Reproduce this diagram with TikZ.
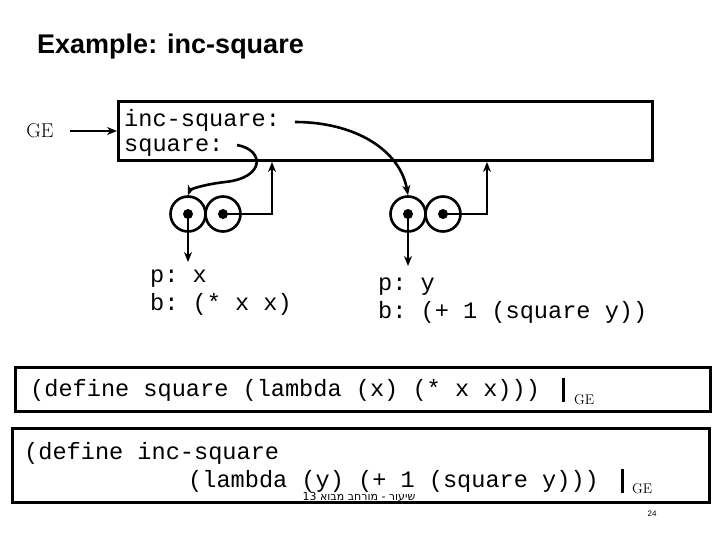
\documentclass[tikz,border=0pt]{standalone}
\usepackage{fontspec}
\setmonofont{Liberation Mono}
\setsansfont{Liberation Sans}
\newfontfamily\hebfont{DejaVu Sans}
\usetikzlibrary{arrows.meta}
\begin{document}
\begin{tikzpicture}[x=1pt,y=-1pt,
  arr/.style={line width=2.6pt,-{Stealth[length=10pt,width=8pt]}},
  box/.style={draw,line width=3pt},
  cell/.style={circle,draw,line width=2.6pt,minimum size=35pt,inner sep=0pt},
  dot/.style={circle,fill,minimum size=10pt,inner sep=0pt},
  code/.style={font=\ttfamily\fontsize{23.6}{28}\selectfont,inner sep=0pt,anchor=base west},
  ge/.style={font=\rmfamily\fontsize{14}{16}\selectfont,inner sep=0pt,anchor=base west}]
\useasboundingbox (0,0) rectangle (720,540);
\node[font=\sffamily\bfseries\fontsize{27}{30}\selectfont,anchor=base west,inner sep=0pt] (title) at (37,54) {Example: inc-square};
\node[font=\rmfamily\fontsize{20}{22}\selectfont,inner sep=0pt] (ge) at (40,131) {GE};
\draw[box] (118,102) rectangle (652,161);
\coordinate (boxl) at (117,131);
\coordinate (ges) at (70,131);
\draw[arr] (ges) -- (boxl);
\node[code] (inc) at (124,127) {inc-square:};
\node[code] (sq) at (124,152) {square:};
% pairs
\node[cell] (c1) at (188,214) {}; \node[dot] (d1) at (188,214) {};
\node[cell] (c2) at (223,214) {}; \node[dot] (d2) at (223,214) {};
\node[cell] (c3) at (408,214) {}; \node[dot] (d3) at (408,214) {};
\node[cell] (c4) at (443,214) {}; \node[dot] (d4) at (443,214) {};
\coordinate (t1) at (272,162); \coordinate (t2) at (487,162);
\draw[arr] (d2.center) -- (272,214) -- (t1);
\draw[arr] (d4.center) -- (487,214) -- (t2);
\node[code,anchor=base west] (p1) at (150,282) {p: x};
\node[code,anchor=base west] (b1) at (150,310) {b: (* x x)};
\node[code,anchor=base west] (p2) at (378,290) {p: y};
\node[code,anchor=base west] (b2) at (378,318) {b: (+ 1 (square y))};
\coordinate (a1) at (188,262); \coordinate (a2) at (408,266);
\draw[arr] (d1.center) -- (a1);
\draw[arr] (d3.center) -- (a2);
\draw[arr] (237,145) .. controls (265,150) and (265,178) .. (225,182) .. controls (200,185) and (190,190) .. (c1.north);
\draw[arr] (295,122) .. controls (355,122) and (400,150) .. (c3.north);
% code boxes
\draw[box] (15,367) rectangle (710,411);
\node[code] (l1) at (30,396) {(define square (lambda (x) (* x x)))};
\draw[line width=3pt] (563,378) -- (563,402);
\node[ge] (g1) at (574,404) {GE};
\draw[box] (12,428) rectangle (709,502);
\node[code] (l2) at (24,459) {(define inc-square};
\node[code] (l3) at (188,487) {(lambda (y) (+ 1 (square y)))};
\draw[line width=3pt] (622,469) -- (622,493);
\node[ge] (g2) at (632,493) {GE};
\node[font=\hebfont\fontsize{11}{13}\selectfont,inner sep=0pt] (foot) at (359,497) {13 {מבוא מורחב - שיעור}};
\node[font=\sffamily\fontsize{8}{10}\selectfont,inner sep=0pt] (pg) at (652,514) {24};
\end{tikzpicture}
\end{document}
